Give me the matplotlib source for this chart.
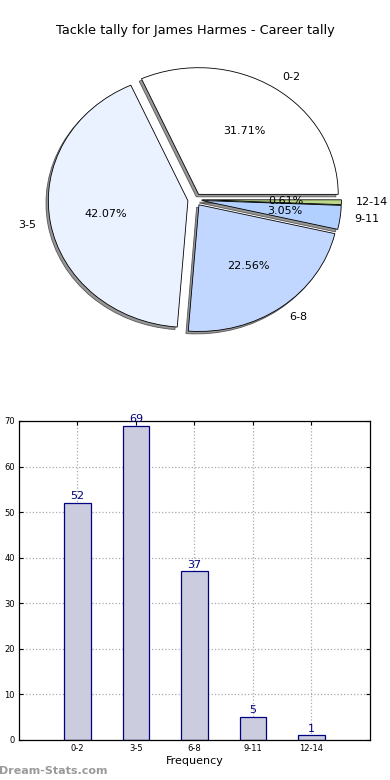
import matplotlib
matplotlib.use("Agg")
import matplotlib.pyplot as plt

# data
categories = ["0-2", "3-5", "6-8", "9-11", "12-14"]
counts = [52, 69, 37, 5, 1]
pie_colors = ["#ffffff", "#eaf1ff", "#c2d7ff", "#b1d0ff", "#bcd88a"]
title = "Tackle tally for James Harmes - Career tally"
y_ticks = [0, 10, 20, 30, 40, 50, 60, 70]

fig = plt.figure(figsize=(3.9, 7.8), dpi=100)
fig.patch.set_facecolor("white")

# pie (old-style, not equal aspect)
ax1 = fig.add_axes([0.052, 0.541, 0.895, 0.406])
wedges, texts, autotexts = ax1.pie(
    counts,
    labels=categories,
    colors=pie_colors,
    explode=[0.05] * len(counts),
    autopct="%1.2f%%",
    startangle=0,
    shadow={"ox": -0.012, "oy": -0.014, "facecolor": "0.55",
            "edgecolor": "0.3", "alpha": 0.9},
    wedgeprops={"edgecolor": "black", "linewidth": 0.6},
    textprops={"fontsize": 8},
)
ax1.set_aspect("auto")
ax1.set_xlim(-1.25, 1.25)
ax1.set_ylim(-1.25, 1.25)
fig.text(0.5, 0.9615, title, ha="center", va="center", fontsize=9.3)

# bar chart
ax2 = fig.add_axes([0.0487, 0.0513, 0.9, 0.409])
x = range(len(categories))
ax2.bar(x, counts, width=0.45, color="#ccccdf", edgecolor="#000080",
        linewidth=0.9, zorder=2)
for i, v in zip(x, counts):
    ax2.text(i, v + 0.4, str(v), ha="center", va="bottom",
             color="#000080", fontsize=8)
ax2.set_xlim(-1, 5)
ax2.set_ylim(0, 70)
ax2.set_xticks(list(x))
ax2.set_xticklabels(categories)
ax2.set_yticks(y_ticks)
ax2.tick_params(labelsize=6, direction="in", top=True, right=True,
                length=3, pad=3)
ax2.grid(True, linestyle=":", color="#aaaaaa", linewidth=0.9, zorder=0)
ax2.set_axisbelow(True)
ax2.set_xlabel("Frequency", fontsize=8, labelpad=2)
for s in ax2.spines.values():
    s.set_linewidth(0.9)

fig.text(-0.002, 0.012, "Dream-Stats.com", ha="left", va="center",
         fontsize=8, color="#9a9a9a", fontweight="bold")

fig.savefig("out.png", dpi=100)
